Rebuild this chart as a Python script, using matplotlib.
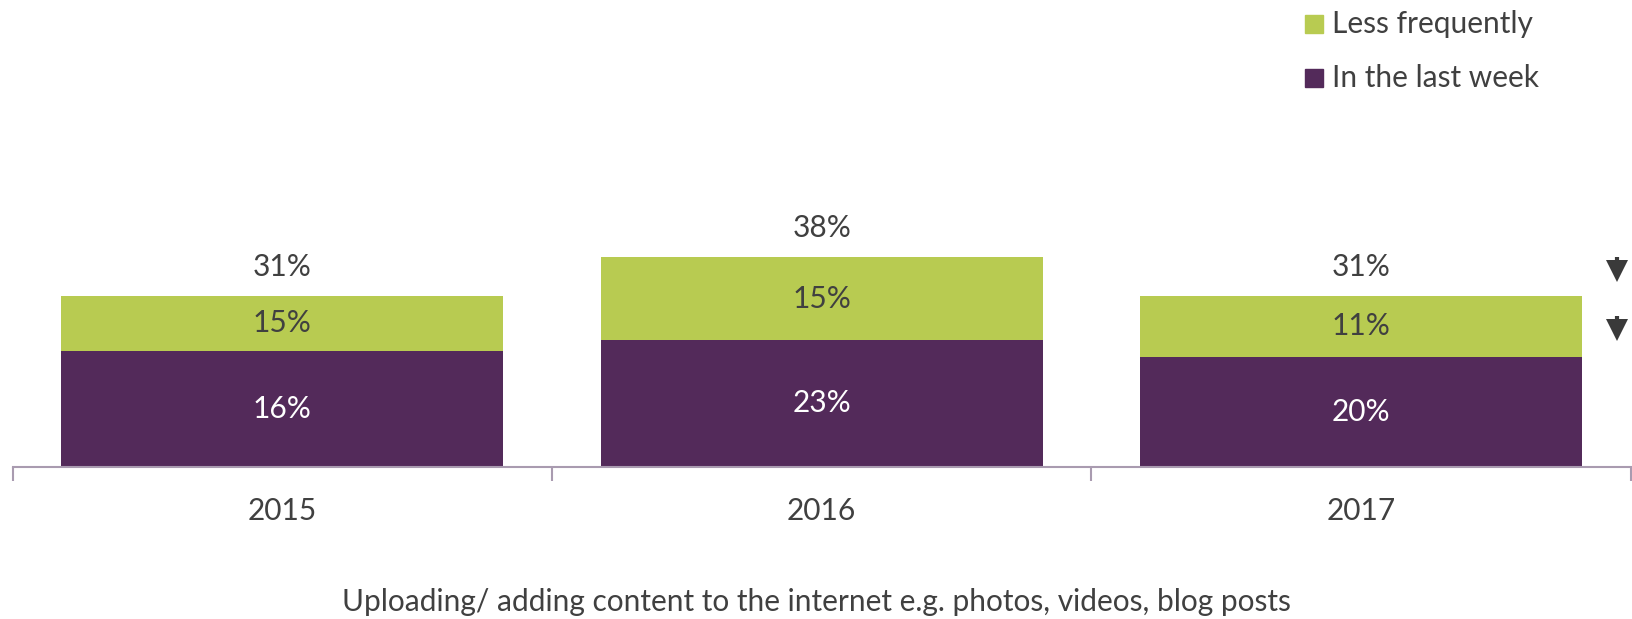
import matplotlib.pyplot as plt
from matplotlib.patches import Rectangle

years = ['2015', '2016', '2017']
# bar heights as drawn in the picture
last_week = [21, 23, 20]
less_freq = [10, 15, 11]
# labels as printed on the chart
last_week_labels = ['16%', '23%', '20%']
less_freq_labels = ['15%', '15%', '11%']
total_labels = ['31%', '38%', '31%']
series_names = ['Less frequently', 'In the last week']
caption = 'Uploading/ adding content to the internet e.g. photos, videos, blog posts'

purple = '#532a5a'
green = '#b8cb51'
txt = '#404040'
fs = 21.5
plt.rcParams['font.family'] = ['Lato', 'DejaVu Sans']

fig = plt.figure(figsize=(16.33, 6.19), dpi=100)
ax = fig.add_axes([0.0077, 0.246, 0.991, 0.754])

x = list(range(len(years)))
w = 0.82
ax.bar(x, last_week, width=w, color=purple)
ax.bar(x, less_freq, bottom=last_week, width=w, color=green)

for i in x:
    lw, lf = last_week[i], less_freq[i]
    ax.text(i, lw / 2, last_week_labels[i], ha='center', va='center', color='white', fontsize=fs)
    ax.text(i, lw + lf / 2, less_freq_labels[i], ha='center', va='center', color=txt, fontsize=fs)
    ax.text(i, lw + lf + 5.3, total_labels[i], ha='center', va='center', color=txt, fontsize=fs)

# significance arrows for 2017
ax_x = 2.475
for yc in [last_week[2] + less_freq[2] + 5.3, last_week[2] + less_freq[2] / 2]:
    ax.plot([ax_x, ax_x], [yc + 1.8, yc - 0.3], color='#3a3a3a', lw=3, solid_capstyle='butt')
    ax.plot(ax_x, yc - 0.7, marker='v', ms=16, color='#3a3a3a', markeredgewidth=0)

ax.set_xlim(-0.5, 2.5)
ax.set_ylim(0, 84.7)
for s in ['top', 'right', 'left']:
    ax.spines[s].set_visible(False)
ax.spines['bottom'].set_color('#a99bb0')
ax.spines['bottom'].set_linewidth(1.5)
ax.set_yticks([])
ax.set_xticks(x)
ax.set_xticklabels(years, fontsize=fs, color=txt)
ax.tick_params(axis='x', which='major', length=0, pad=22)
ax.set_xticks([-0.5, 0.5, 1.5, 2.5], minor=True)
ax.tick_params(axis='x', which='minor', length=10, width=1.5, color='#a99bb0')

# legend
for yc, col, name in [(24, green, series_names[0]), (78, purple, series_names[1])]:
    fig.patches.append(Rectangle((1305 / 1633, 1 - (yc + 9) / 619), 18 / 1633, 18 / 619,
                                 transform=fig.transFigure, color=col))
    fig.text(1332 / 1633, 1 - yc / 619, name, ha='left', va='center', fontsize=fs, color=txt)

fig.text(0.5, 1 - 602 / 619, caption, ha='center', va='center', fontsize=fs, color=txt)

fig.savefig('out.png', dpi=100)
